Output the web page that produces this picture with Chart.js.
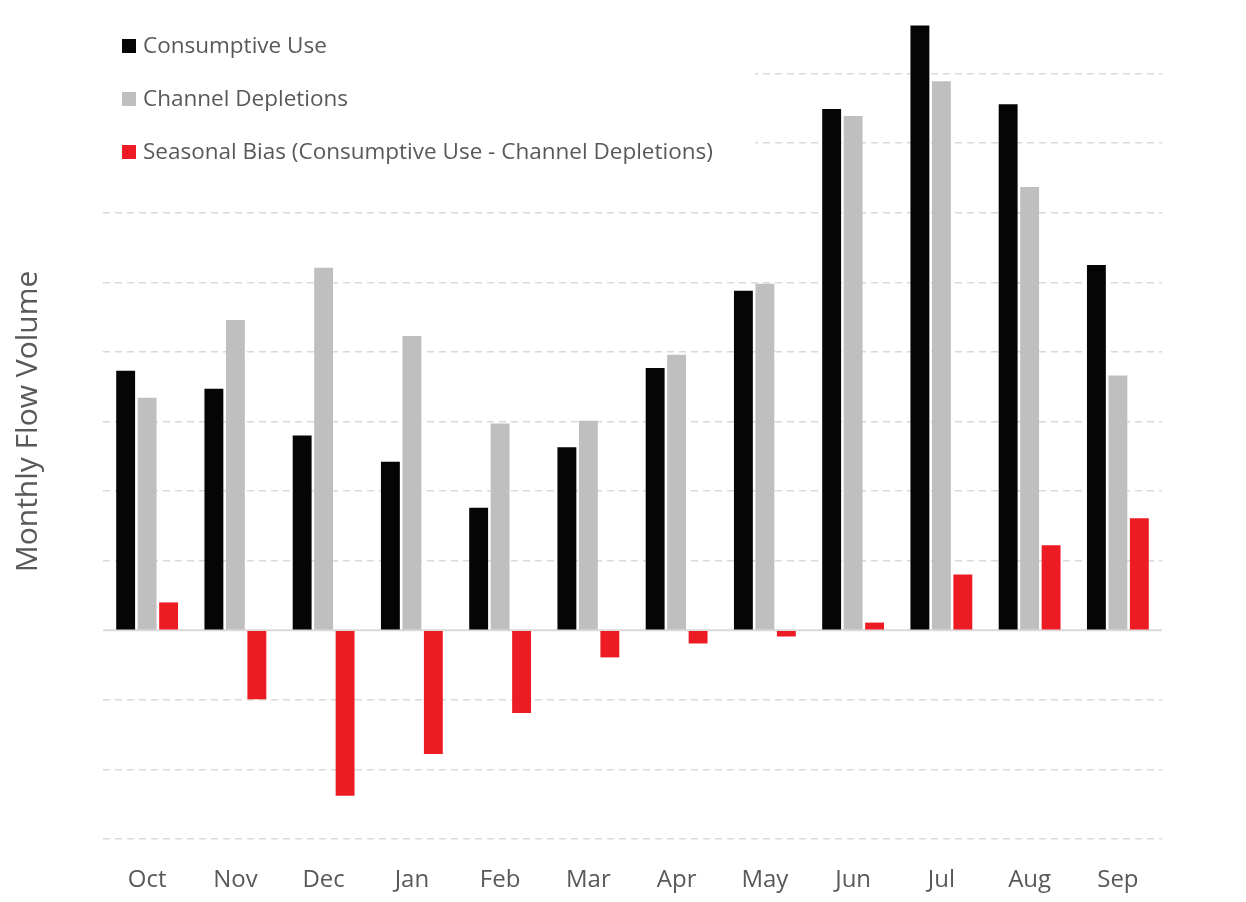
<!DOCTYPE html>
<html>
<head>
<meta charset="utf-8">
<script src="https://cdn.jsdelivr.net/npm/chart.js@4/dist/chart.umd.min.js"></script>
<style>
  html, body { margin: 0; padding: 0; background: #fff; }
  #wrap { width: 1246px; height: 902px; }
</style>
</head>
<body>
<div id="wrap"><canvas id="flowChart" width="1246" height="902"></canvas></div>
<script>
// months of the water year
let months = ["Oct", "Nov", "Dec", "Jan", "Feb", "Mar", "Apr", "May", "Jun", "Jul", "Aug", "Sep"];
// values, in gridline units (no tick labels on the original)
let consumptiveUse = [3.73, 3.47, 2.80, 2.42, 1.76, 2.63, 3.77, 4.88, 7.49, 8.69, 7.56, 5.25];
let channelDepletions = [3.34, 4.46, 5.21, 4.23, 2.97, 3.01, 3.96, 4.98, 7.39, 7.89, 6.37, 3.66];
let seasonalBias = [0.40, -0.99, -2.38, -1.78, -1.19, -0.39, -0.19, -0.09, 0.11, 0.80, 1.22, 1.61];

let textGrey = "#595959";
let gridGrey = "#d9d9d9";
let fontName = "'Open Sans', Lato, sans-serif";

// zero line + legend with white backing (legend sits over the gridlines)
const overlayPlugin = {
  id: "overlay",
  beforeDatasetsDraw(chart) {
    const ctx = chart.ctx;
    const y = chart.scales.y;
    const area = chart.chartArea;
    ctx.save();
    // white box behind legend
    ctx.fillStyle = "#fff";
    ctx.fillRect(area.left, area.top, 652, 160);
    // zero line
    let y0 = y.getPixelForValue(0);
    ctx.strokeStyle = gridGrey;
    ctx.lineWidth = 2;
    ctx.beginPath();
    ctx.moveTo(area.left, y0);
    ctx.lineTo(area.right, y0);
    ctx.stroke();
    ctx.restore();
  },
  afterDraw(chart) {
    const ctx = chart.ctx;
    ctx.save();
    ctx.font = "22.5px " + fontName;
    ctx.textBaseline = "middle";
    chart.data.datasets.forEach((ds, i) => {
      let cy = 46 + i * 53;
      ctx.fillStyle = ds.backgroundColor;
      ctx.fillRect(122, cy - 7, 14, 14);
      ctx.fillStyle = textGrey;
      ctx.fillText(ds.label, 143, cy + 1);
    });
    ctx.restore();
  },
};

let ctx = document.getElementById("flowChart").getContext("2d");

let flowChart = new Chart(ctx, {
  type: "bar",
  data: {
    labels: months,
    datasets: [
      { label: "Consumptive Use", data: consumptiveUse, backgroundColor: "#050505" },
      { label: "Channel Depletions", data: channelDepletions, backgroundColor: "#bfbfbf" },
      { label: "Seasonal Bias (Consumptive Use - Channel Depletions)", data: seasonalBias, backgroundColor: "#ed1c24" },
    ],
  },
  options: {
    responsive: false,
    animation: false,
    layout: {
      padding: { left: 10, right: 84, top: 4, bottom: 0 },
    },
    datasets: {
      bar: { categoryPercentage: 0.73, barPercentage: 0.88, borderWidth: 0 },
    },
    plugins: {
      legend: { display: false },
      tooltip: { enabled: false },
    },
    scales: {
      x: {
        grid: { display: false, drawTicks: false },
        border: { display: false },
        ticks: {
          color: textGrey,
          padding: 27,
          maxRotation: 0,
          minRotation: 0,
          font: { family: fontName, size: 24 },
        },
        afterFit: (scale) => {
          scale.height = 63;
        },
      },
      y: {
        min: -3,
        max: 9,
        grid: {
          drawTicks: false,
          lineWidth: 1.5,
          color: (c) => {
            let v = c.tick ? c.tick.value : null;
            if (v === 0 || v === 9) return "rgba(0,0,0,0)";
            return gridGrey;
          },
        },
        border: { display: false, dash: [7, 5] },
        ticks: { display: false, stepSize: 1 },
        title: {
          display: true,
          text: "Monthly Flow Volume",
          color: textGrey,
          font: { family: fontName, size: 30 },
          padding: { top: 0, bottom: 57 },
        },
      },
    },
  },
  plugins: [overlayPlugin],
});
</script>
</body>
</html>
